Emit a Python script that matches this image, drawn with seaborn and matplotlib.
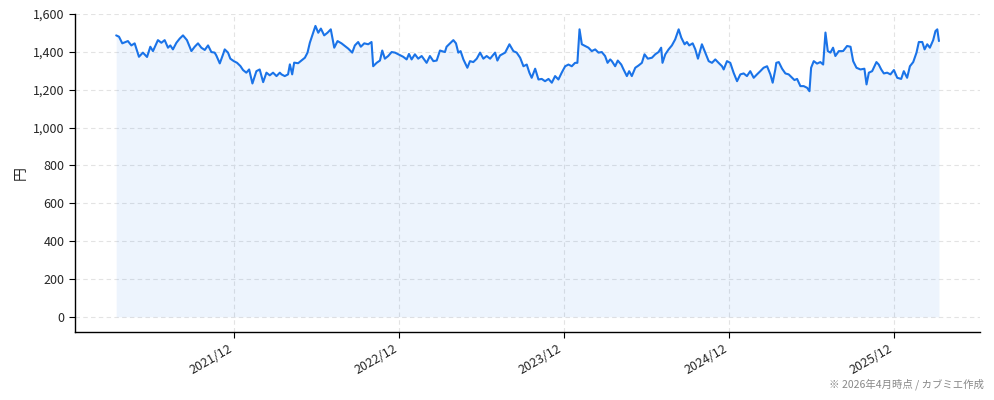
import pandas as pd
import matplotlib
matplotlib.use("Agg")
import matplotlib.pyplot as plt
import matplotlib.dates as mdates
import matplotlib.ticker as mticker
import seaborn as sns

# price readings (time in decimal years, price in yen)
years = [
    2021.198, 2021.215, 2021.235, 2021.269, 2021.290, 2021.310, 2021.336, 2021.360, 2021.385, 2021.405,
    2021.421, 2021.451, 2021.472, 2021.492, 2021.512, 2021.526, 2021.542, 2021.563, 2021.583, 2021.603,
    2021.627, 2021.654, 2021.674, 2021.694, 2021.714, 2021.735, 2021.755, 2021.775, 2021.795, 2021.805,
    2021.826, 2021.846, 2021.856, 2021.876, 2021.890, 2021.911, 2021.931, 2021.951, 2021.967, 2021.987,
    2022.004, 2022.024, 2022.048, 2022.068, 2022.089, 2022.109, 2022.129, 2022.149, 2022.170, 2022.190,
    2022.200, 2022.220, 2022.240, 2022.251, 2022.265, 2022.277, 2022.301, 2022.321, 2022.342, 2022.358,
    2022.372, 2022.392, 2022.406, 2022.423, 2022.439, 2022.459, 2022.479, 2022.499, 2022.520, 2022.540,
    2022.564, 2022.584, 2022.605, 2022.629, 2022.645, 2022.665, 2022.681, 2022.702, 2022.726, 2022.746,
    2022.756, 2022.777, 2022.797, 2022.811, 2022.827, 2022.847, 2022.868, 2022.888, 2022.908, 2022.938,
    2022.959, 2022.973, 2022.989, 2023.009, 2023.029, 2023.050, 2023.080, 2023.100, 2023.121, 2023.141,
    2023.161, 2023.191, 2023.201, 2023.222, 2023.242, 2023.258, 2023.272, 2023.286, 2023.303, 2023.327,
    2023.343, 2023.363, 2023.384, 2023.404, 2023.424, 2023.444, 2023.465, 2023.495, 2023.509, 2023.525,
    2023.556, 2023.582, 2023.606, 2023.626, 2023.647, 2023.667, 2023.687, 2023.703, 2023.717, 2023.738,
    2023.758, 2023.778, 2023.798, 2023.819, 2023.839, 2023.859, 2023.879, 2023.899, 2023.920, 2023.940,
    2023.960, 2023.980, 2023.994, 2024.007, 2024.021, 2024.041, 2024.061, 2024.081, 2024.102, 2024.122,
    2024.142, 2024.162, 2024.177, 2024.193, 2024.203, 2024.223, 2024.239, 2024.260, 2024.274, 2024.294,
    2024.308, 2024.324, 2024.345, 2024.365, 2024.385, 2024.401, 2024.421, 2024.446, 2024.466, 2024.486,
    2024.502, 2024.510, 2024.527, 2024.547, 2024.567, 2024.587, 2024.608, 2024.624, 2024.644, 2024.658,
    2024.672, 2024.693, 2024.709, 2024.725, 2024.749, 2024.769, 2024.790, 2024.810, 2024.830, 2024.850,
    2024.871, 2024.881, 2024.901, 2024.921, 2024.941, 2024.962, 2024.982, 2025.002, 2025.022, 2025.042,
    2025.063, 2025.083, 2025.103, 2025.123, 2025.144, 2025.164, 2025.178, 2025.194, 2025.200, 2025.215,
    2025.235, 2025.255, 2025.275, 2025.296, 2025.310, 2025.326, 2025.346, 2025.366, 2025.387, 2025.401,
    2025.411, 2025.427, 2025.447, 2025.467, 2025.484, 2025.498, 2025.512, 2025.528, 2025.544, 2025.558,
    2025.579, 2025.605, 2025.629, 2025.650, 2025.666, 2025.686, 2025.710, 2025.734, 2025.747, 2025.761,
    2025.781, 2025.807, 2025.821, 2025.836, 2025.852, 2025.872, 2025.892, 2025.913, 2025.933, 2025.957,
    2025.973, 2025.993, 2026.010, 2026.030, 2026.050, 2026.064, 2026.085, 2026.099, 2026.115, 2026.131,
    2026.151, 2026.165, 2026.176, 2026.186,
]
prices = [
    1487, 1480, 1445, 1457, 1434, 1445, 1374, 1396, 1373, 1427,
    1404, 1462, 1448, 1462, 1422, 1434, 1413, 1448, 1470, 1487,
    1462, 1404, 1427, 1445, 1422, 1410, 1434, 1399, 1396, 1381,
    1339, 1387, 1413, 1396, 1364, 1351, 1342, 1325, 1304, 1290,
    1307, 1233, 1298, 1307, 1240, 1290, 1276, 1290, 1272, 1290,
    1281, 1272, 1281, 1334, 1281, 1343, 1340, 1354, 1369, 1396,
    1448, 1501, 1537, 1501, 1523, 1487, 1501, 1519, 1422, 1457,
    1445, 1431, 1417, 1396, 1434, 1452, 1427, 1445, 1440, 1452,
    1324, 1342, 1354, 1407, 1364, 1378, 1399, 1396, 1387, 1374,
    1360, 1389, 1360, 1387, 1364, 1378, 1342, 1378, 1351, 1354,
    1407, 1399, 1427, 1445, 1462, 1445, 1396, 1404, 1360, 1316,
    1351, 1346, 1364, 1396, 1364, 1378, 1364, 1396, 1354, 1381,
    1396, 1440, 1404, 1396, 1369, 1324, 1333, 1290, 1263, 1311,
    1254, 1257, 1245, 1257, 1237, 1272, 1254, 1290, 1324, 1333,
    1324, 1342, 1342, 1519, 1440, 1431, 1422, 1404, 1413, 1396,
    1399, 1378, 1342, 1360, 1351, 1324, 1354, 1333, 1307, 1272,
    1298, 1272, 1316, 1328, 1342, 1387, 1364, 1369, 1387, 1399,
    1422, 1342, 1387, 1413, 1434, 1466, 1519, 1475, 1440, 1452,
    1434, 1445, 1413, 1364, 1440, 1396, 1351, 1342, 1360, 1342,
    1324, 1307, 1351, 1342, 1290, 1245, 1281, 1286, 1272, 1298,
    1263, 1281, 1298, 1316, 1324, 1281, 1237, 1307, 1342, 1346,
    1311, 1286, 1281, 1263, 1251, 1257, 1219, 1219, 1210, 1192,
    1316, 1351, 1338, 1346, 1333, 1502, 1404, 1396, 1422, 1378,
    1404, 1404, 1431, 1427, 1351, 1316, 1307, 1311, 1228, 1290,
    1298, 1346, 1333, 1307, 1286, 1290, 1281, 1304, 1263, 1257,
    1298, 1263, 1324, 1346, 1396, 1452, 1452, 1413, 1440, 1422,
    1462, 1510, 1519, 1457,
]
tick_dates = ["2021-12-01", "2022-12-01", "2023-12-01", "2024-12-01", "2025-12-01"]
y_ticks = [0, 200, 400, 600, 800, 1000, 1200, 1400, 1600]
note = "※ 2026年4月時点 / カブミエ作成"
line_color = "#1a73e8"

# decimal years -> dates
yrs = pd.Series(years)
dates = pd.to_datetime("2021-01-01") + pd.to_timedelta((yrs - 2021) * 365.25, unit="D")
df = pd.DataFrame({"date": dates, "price": prices})

sns.set_style("white")
plt.rcParams["font.family"] = ["Noto Sans CJK JP", "DejaVu Sans"]

fig = plt.figure(figsize=(9.94, 4), dpi=100)
ax = fig.add_axes([0.0755, 0.17, 0.9105, 0.795])

ax.fill_between(df["date"], df["price"], 0, color=line_color, alpha=0.08, linewidth=0)
sns.lineplot(data=df, x="date", y="price", color=line_color, linewidth=1.5, ax=ax)

ax.set_ylim(-80, 1600)
ax.set_yticks(y_ticks)
ax.yaxis.set_major_formatter(mticker.FuncFormatter(lambda v, p: f"{int(v):,}"))
ax.set_xticks(pd.to_datetime(tick_dates))
ax.xaxis.set_major_formatter(mdates.DateFormatter("%Y/%m"))
plt.setp(ax.get_xticklabels(), rotation=30, ha="right")
ax.tick_params(axis="both", labelsize=9, length=4, color="black")
ax.tick_params(axis="both", direction="out", left=True, bottom=True)

ax.grid(True, linestyle=(0, (4, 3)), color="#e3e3e3", linewidth=0.8)
ax.set_axisbelow(True)
sns.despine(ax=ax)
for s in ["left", "bottom"]:
    ax.spines[s].set_color("black")
    ax.spines[s].set_linewidth(1.0)

ax.set_xlabel("")
ax.set_ylabel("円", fontsize=10)

fig.text(0.99, 0.025, note, ha="right", va="bottom", fontsize=7.5, color="#888888")

fig.savefig("out.png", dpi=100)
